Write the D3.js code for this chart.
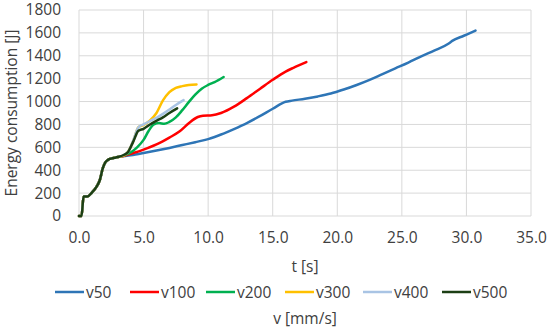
<!DOCTYPE html>
<html>
<head>
<meta charset="utf-8">
<script src="https://cdn.jsdelivr.net/npm/d3@7"></script>
<style>
    body { margin: 0; background: #fff; }
    svg text { font-family: 'Open Sans', 'Noto Sans', sans-serif; fill: #404040; }
</style>
</head>
<body>
<div id="chart"></div>
<script>
// shared start of all runs
const startT = [0.0, 0.2, 0.35, 0.65, 1.0, 1.35, 1.6, 1.85, 2.05, 2.3, 2.6]
const startE = [0, 0, 170, 170, 205, 255, 310, 420, 470, 495, 505]

const v50T = [3.0, 4.0, 5.0, 6.0, 7.0, 8.0, 9.0, 10.0, 11.0, 12.0, 13.0, 14.0, 15.0, 16.0, 16.5, 17.5, 18.5, 19.5, 20.5, 21.5, 22.5, 23.5, 24.5, 25.5, 26.5, 27.5, 28.6, 28.9, 29.8, 30.7]
const v50E = [515, 530, 550, 572, 595, 620, 645, 672, 712, 760, 812, 872, 937, 998, 1008, 1025, 1045, 1070, 1105, 1145, 1190, 1240, 1290, 1340, 1395, 1445, 1505, 1530, 1575, 1620]

const v100T = [3.0, 3.5, 4.2, 5.0, 6.0, 7.0, 7.8, 8.5, 9.2, 9.6, 10.3, 11.0, 12.0, 13.0, 14.0, 15.0, 16.0, 16.6, 17.6]
const v100E = [515, 527, 550, 580, 625, 685, 740, 810, 865, 876, 880, 900, 955, 1030, 1110, 1190, 1262, 1295, 1345]

const v200T = [3.0, 3.5, 4.0, 4.5, 5.0, 5.4, 5.8, 6.2, 6.6, 7.0, 7.5, 8.0, 8.5, 9.0, 9.5, 10.0, 10.5, 11.2]
const v200E = [515, 530, 555, 600, 665, 745, 800, 812, 805, 822, 862, 925, 995, 1060, 1112, 1145, 1170, 1215]

const v300T = [3.0, 3.5, 3.8, 4.2, 4.6, 5.0, 5.5, 6.0, 6.5, 7.0, 7.5, 8.0, 8.5, 9.1]
const v300E = [515, 530, 562, 655, 775, 795, 835, 900, 1010, 1082, 1120, 1135, 1145, 1150]

const v400T = [3.0, 3.5, 3.8, 4.2, 4.6, 5.0, 5.5, 6.0, 6.5, 7.0, 7.5, 8.1]
const v400E = [515, 535, 560, 660, 775, 800, 830, 858, 892, 930, 970, 1012]

const v500T = [3.0, 3.5, 3.8, 4.2, 4.6, 5.0, 5.5, 6.0, 6.5, 7.0, 7.6]
const v500E = [515, 535, 560, 650, 745, 762, 800, 832, 862, 900, 940]

const seriesNames = ['v50', 'v100', 'v200', 'v300', 'v400', 'v500']
const seriesT = [v50T, v100T, v200T, v300T, v400T, v500T]
const seriesE = [v50E, v100E, v200E, v300E, v400E, v500E]
const colors = ['#2e75b6', '#ff0000', '#00b050', '#ffc000', '#a9c4e4', '#1c3f14']

const xTicks = [0, 5, 10, 15, 20, 25, 30, 35]
const yTicks = [0, 200, 400, 600, 800, 1000, 1200, 1400, 1600, 1800]

const width = 550
const height = 330
const margin = { top: 10, right: 19, bottom: 114, left: 79 }
const w = width - margin.left - margin.right
const h = height - margin.top - margin.bottom
const fontSize = '15.5px'

const svg = d3.select('#chart')
    .append('svg')
    .attr('width', width)
    .attr('height', height)

const g = svg.append('g')
    .attr('transform', `translate(${margin.left},${margin.top})`)

const x = d3.scaleLinear().domain([0, 35]).range([0, w])
const y = d3.scaleLinear().domain([0, 1800]).range([h, 0])

// grid
g.append('g')
    .selectAll('line')
    .data(yTicks)
    .enter()
    .append('line')
    .attr('x1', 0).attr('x2', w)
    .attr('y1', d => y(d)).attr('y2', d => y(d))
    .attr('stroke', '#d9d9d9')
    .attr('stroke-width', 1)

g.append('g')
    .selectAll('line')
    .data(xTicks)
    .enter()
    .append('line')
    .attr('x1', d => x(d)).attr('x2', d => x(d))
    .attr('y1', 0).attr('y2', h)
    .attr('stroke', '#d9d9d9')
    .attr('stroke-width', 1)

// axes, labels only
let yAxis = g.append('g')
    .call(d3.axisLeft(y).tickValues(yTicks).tickSize(0).tickPadding(18)
        .tickFormat(d3.format('d')))
yAxis.select('.domain').remove()
yAxis.selectAll('text')
    .style('font-size', fontSize)
    .attr('fill', '#404040')

let xAxis = g.append('g')
    .attr('transform', `translate(0,${h})`)
    .call(d3.axisBottom(x).tickValues(xTicks).tickSize(0).tickPadding(16)
        .tickFormat(d3.format('.1f')))
xAxis.select('.domain').remove()
xAxis.selectAll('text')
    .style('font-size', fontSize)
    .attr('fill', '#404040')

// titles
svg.append('text')
    .attr('transform', `translate(17,${margin.top + h / 2}) rotate(-90)`)
    .attr('text-anchor', 'middle')
    .style('font-size', fontSize)
    .text('Energy consumption [J]')

svg.append('text')
    .attr('x', margin.left + w / 2)
    .attr('y', 272)
    .attr('text-anchor', 'middle')
    .style('font-size', fontSize)
    .text('t [s]')

svg.append('text')
    .attr('x', margin.left + w / 2)
    .attr('y', 324)
    .attr('text-anchor', 'middle')
    .style('font-size', fontSize)
    .text('v [mm/s]')

// lines
let line = d3.line()
    .x(d => x(d[0]))
    .y(d => y(d[1]))
    .curve(d3.curveMonotoneX)

let data = seriesNames.map((name, i) => {
    let pts = startT.map((t, j) => [t, startE[j]])
    seriesT[i].forEach((t, j) => pts.push([t, seriesE[i][j]]))
    return { name: name, color: colors[i], pts: pts }
})

g.append('g')
    .selectAll('path')
    .data(data)
    .enter()
    .append('path')
    .attr('d', d => line(d.pts))
    .attr('fill', 'none')
    .attr('stroke', d => d.color)
    .attr('stroke-width', 2.5)
    .attr('stroke-linejoin', 'round')
    .attr('stroke-linecap', 'round')

// legend
const legendX = [55, 130, 206, 285, 363, 442]
let legend = svg.append('g')
    .attr('transform', 'translate(0,292)')

let items = legend.selectAll('g')
    .data(data)
    .enter()
    .append('g')
    .attr('transform', (d, i) => `translate(${legendX[i]},0)`)

items.append('line')
    .attr('x1', 0).attr('x2', 29)
    .attr('y1', 0).attr('y2', 0)
    .attr('stroke', d => d.color)
    .attr('stroke-width', 2.5)

items.append('text')
    .attr('x', 31)
    .attr('y', 5.5)
    .style('font-size', fontSize)
    .text(d => d.name)
</script>
</body>
</html>
